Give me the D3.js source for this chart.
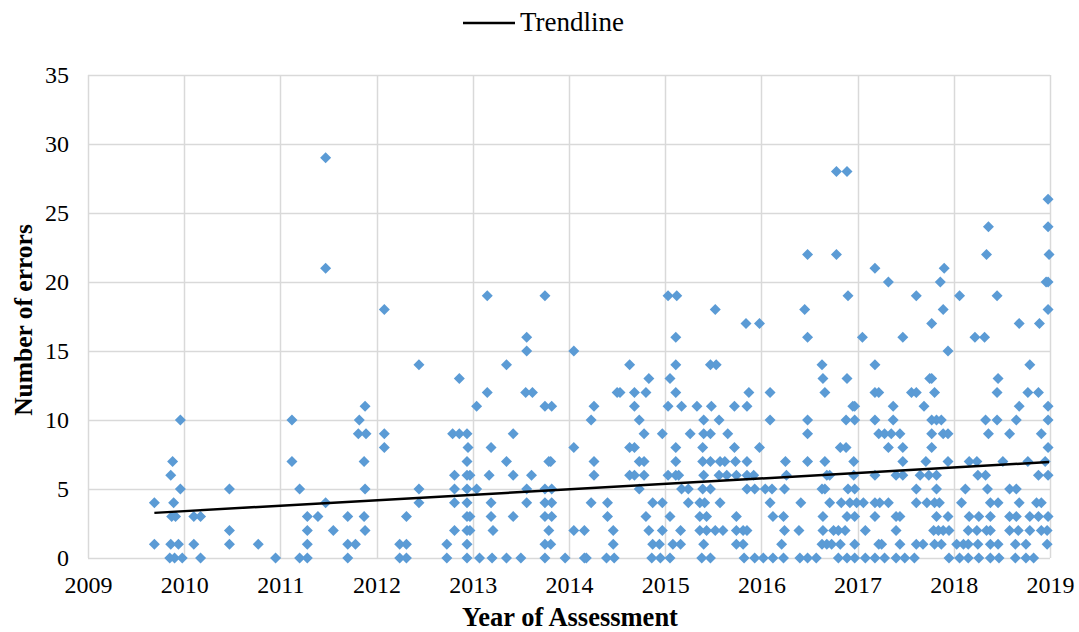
<!DOCTYPE html>
<html>
<head>
<meta charset="utf-8">
<script src="https://cdn.jsdelivr.net/npm/d3@7"></script>
<style>
  body { margin:0; background:#fff; }
  svg text { font-family:"Liberation Serif","Times New Roman",serif; fill:#000; }
</style>
</head>
<body>
<svg id="svg" width="1079" height="632"></svg>
<script>
// points: [year of assessment, number of errors]
var pts2009=[[2009.69,4],[2009.69,1],[2009.85,0],[2009.86,6],[2009.86,1],[2009.87,3],[2009.88,7],[2009.89,4],[2009.90,0],[2009.91,3],[2009.94,1],[2009.96,10],[2009.96,5],[2009.98,0]];
var pts2010=[[2010.10,3],[2010.10,1],[2010.17,3],[2010.17,0],[2010.47,5],[2010.47,2],[2010.47,1],[2010.77,1],[2010.95,0]];
var pts2011=[[2011.12,10],[2011.12,7],[2011.20,5],[2011.20,0],[2011.28,3],[2011.28,2],[2011.28,1],[2011.28,0],[2011.39,3],[2011.47,29],[2011.47,21],[2011.47,4],[2011.55,2],[2011.70,3],[2011.70,1],[2011.70,0],[2011.78,1],[2011.81,9],[2011.82,10],[2011.87,7],[2011.87,3],[2011.88,11],[2011.88,5],[2011.88,2],[2011.89,9]];
var pts2012=[[2012.08,18],[2012.08,9],[2012.08,8],[2012.24,1],[2012.24,0],[2012.31,3],[2012.31,1],[2012.31,0],[2012.44,14],[2012.44,5],[2012.44,4],[2012.73,1],[2012.73,0],[2012.79,9],[2012.81,6],[2012.81,5],[2012.81,4],[2012.81,2],[2012.86,13],[2012.86,9],[2012.94,9],[2012.95,8],[2012.94,7],[2012.94,6],[2012.97,6],[2012.94,5],[2012.94,4],[2012.94,3],[2012.97,3],[2012.94,2],[2012.97,2],[2012.94,1],[2012.94,0]];
var pts2013=[[2013.04,11],[2013.04,5],[2013.07,0],[2013.15,19],[2013.15,12],[2013.17,6],[2013.19,8],[2013.19,4],[2013.19,3],[2013.20,0],[2013.21,2],[2013.35,14],[2013.35,7],[2013.35,0],[2013.42,9],[2013.42,6],[2013.42,3],[2013.50,0],[2013.56,16],[2013.56,15],[2013.55,12],[2013.56,5],[2013.56,4],[2013.61,6],[2013.62,12],[2013.75,19],[2013.75,11],[2013.75,5],[2013.75,4],[2013.75,3],[2013.75,1],[2013.75,0],[2013.79,7],[2013.79,2],[2013.81,7],[2013.81,1],[2013.82,11],[2013.82,5],[2013.82,4],[2013.82,3],[2013.96,0]];
var pts2014=[[2014.05,15],[2014.05,8],[2014.05,2],[2014.16,2],[2014.16,0],[2014.18,0],[2014.23,10],[2014.23,4],[2014.26,11],[2014.26,7],[2014.26,6],[2014.39,0],[2014.40,4],[2014.40,3],[2014.46,2],[2014.46,1],[2014.47,0],[2014.50,12],[2014.53,12],[2014.63,14],[2014.63,8],[2014.63,6],[2014.68,12],[2014.68,11],[2014.68,8],[2014.68,6],[2014.73,10],[2014.73,7],[2014.73,5],[2014.78,9],[2014.78,7],[2014.78,6],[2014.80,12],[2014.80,3],[2014.83,13],[2014.83,2],[2014.86,0],[2014.87,4],[2014.87,1],[2014.94,1],[2014.95,0],[2014.97,9],[2014.97,4],[2014.97,2]];
var pts2015=[[2015.03,19],[2015.03,11],[2015.03,6],[2015.05,13],[2015.05,3],[2015.05,0],[2015.08,1],[2015.11,16],[2015.11,14],[2015.11,12],[2015.11,8],[2015.11,7],[2015.11,6],[2015.12,19],[2015.14,6],[2015.16,2],[2015.16,1],[2015.17,11],[2015.17,5],[2015.24,5],[2015.24,4],[2015.26,9],[2015.33,11],[2015.36,4],[2015.36,3],[2015.36,2],[2015.38,0],[2015.39,8],[2015.39,7],[2015.39,5],[2015.40,10],[2015.40,9],[2015.40,6],[2015.40,1],[2015.41,4],[2015.43,3],[2015.43,2],[2015.47,14],[2015.47,9],[2015.47,7],[2015.47,5],[2015.47,0],[2015.48,11],[2015.52,18],[2015.52,2],[2015.53,14],[2015.56,10],[2015.56,6],[2015.57,7],[2015.57,4],[2015.60,2],[2015.62,7],[2015.64,6],[2015.65,9],[2015.72,11],[2015.72,8],[2015.73,7],[2015.74,6],[2015.74,3],[2015.74,2],[2015.74,1],[2015.81,2],[2015.81,1],[2015.82,0],[2015.84,17],[2015.85,11],[2015.85,7],[2015.85,6],[2015.85,5],[2015.85,2],[2015.87,12],[2015.92,6],[2015.93,5],[2015.93,0],[2015.98,17],[2015.98,8]];
var pts2016=[[2016.02,0],[2016.04,5],[2016.09,12],[2016.09,10],[2016.09,4],[2016.11,5],[2016.12,3],[2016.12,0],[2016.21,1],[2016.23,3],[2016.23,0],[2016.24,5],[2016.24,2],[2016.25,7],[2016.26,6],[2016.39,2],[2016.40,0],[2016.41,4],[2016.45,18],[2016.48,22],[2016.48,16],[2016.48,10],[2016.48,9],[2016.48,7],[2016.48,0],[2016.57,0],[2016.63,14],[2016.63,5],[2016.63,1],[2016.64,13],[2016.64,3],[2016.64,2],[2016.66,12],[2016.66,7],[2016.66,5],[2016.68,6],[2016.68,1],[2016.71,6],[2016.71,4],[2016.73,1],[2016.75,2],[2016.78,28],[2016.78,22],[2016.80,2],[2016.80,0],[2016.82,8],[2016.82,1],[2016.83,4],[2016.87,2],[2016.88,10],[2016.88,8],[2016.89,28],[2016.89,13],[2016.89,3],[2016.89,0],[2016.90,19],[2016.90,5],[2016.92,4],[2016.95,11],[2016.96,7],[2016.96,6],[2016.97,11],[2016.97,10],[2016.97,5],[2016.97,3],[2016.97,1],[2016.97,0],[2016.99,4]];
var pts2017=[[2017.05,16],[2017.06,4],[2017.08,2],[2017.08,0],[2017.18,21],[2017.18,14],[2017.18,12],[2017.18,10],[2017.18,6],[2017.18,4],[2017.18,3],[2017.18,0],[2017.22,12],[2017.22,9],[2017.22,1],[2017.23,4],[2017.25,1],[2017.28,9],[2017.28,0],[2017.32,20],[2017.32,8],[2017.32,4],[2017.35,9],[2017.37,11],[2017.37,10],[2017.40,6],[2017.40,3],[2017.40,2],[2017.40,0],[2017.44,9],[2017.44,3],[2017.44,1],[2017.47,16],[2017.47,8],[2017.47,7],[2017.47,6],[2017.49,0],[2017.56,12],[2017.59,0],[2017.61,19],[2017.61,12],[2017.61,5],[2017.61,4],[2017.61,1],[2017.65,6],[2017.68,1],[2017.69,11],[2017.71,7],[2017.72,4],[2017.74,6],[2017.75,13],[2017.77,17],[2017.77,13],[2017.77,10],[2017.77,9],[2017.77,8],[2017.79,2],[2017.80,12],[2017.80,4],[2017.80,1],[2017.82,10],[2017.82,6],[2017.82,5],[2017.82,3],[2017.84,2],[2017.85,4],[2017.86,20],[2017.87,10],[2017.87,1],[2017.89,18],[2017.89,9],[2017.89,2],[2017.90,21],[2017.94,15],[2017.94,9],[2017.94,7],[2017.94,3],[2017.95,2],[2017.95,0]];
var pts2018=[[2018.03,1],[2018.06,19],[2018.06,0],[2018.08,4],[2018.10,1],[2018.12,5],[2018.15,2],[2018.15,1],[2018.15,0],[2018.16,7],[2018.16,3],[2018.22,16],[2018.24,7],[2018.24,2],[2018.25,6],[2018.25,1],[2018.26,3],[2018.26,0],[2018.32,16],[2018.33,10],[2018.33,6],[2018.34,22],[2018.34,2],[2018.35,5],[2018.36,24],[2018.36,9],[2018.38,4],[2018.38,3],[2018.38,2],[2018.38,1],[2018.38,0],[2018.45,19],[2018.45,12],[2018.45,10],[2018.46,13],[2018.46,4],[2018.46,1],[2018.47,0],[2018.51,7],[2018.58,9],[2018.58,5],[2018.58,3],[2018.58,2],[2018.64,1],[2018.64,0],[2018.65,10],[2018.65,5],[2018.65,3],[2018.67,2],[2018.68,17],[2018.68,11],[2018.68,4],[2018.75,1],[2018.75,0],[2018.77,12],[2018.77,7],[2018.79,14],[2018.79,3],[2018.79,2],[2018.83,0],[2018.86,4],[2018.88,12],[2018.88,6],[2018.88,3],[2018.89,17],[2018.91,9],[2018.91,4],[2018.91,2],[2018.95,7],[2018.96,20],[2018.97,2],[2018.97,1],[2018.98,26],[2018.98,24],[2018.98,20],[2018.98,18],[2018.98,11],[2018.98,10],[2018.98,8],[2018.98,6],[2018.98,3],[2018.99,22]];

// linear trendline as shown on the chart (start and end values)
var trendYears=[2009.69,2018.99];
var trendErrors=[3.27,6.95];

var xTicks=[2009,2010,2011,2012,2013,2014,2015,2016,2017,2018,2019];
var yTicks=[0,5,10,15,20,25,30,35];
var legendLabel="Trendline";
var xTitle="Year of Assessment";
var yTitle="Number of errors";

var data=[].concat(pts2009,pts2010,pts2011,pts2012,pts2013,pts2014,pts2015,pts2016,pts2017,pts2018);

var mLeft=88,mTop=75,width=962,height=483;
var svg=d3.select("#svg");
var g=svg.append("g").attr("transform","translate("+mLeft+","+mTop+")");

var x=d3.scaleLinear().domain([2009,2019]).range([0,width]);
var y=d3.scaleLinear().domain([0,35]).range([height,0]);

//gridlines
g.append("g").selectAll("line").data(yTicks).enter().append("line")
    .attr("x1",0).attr("x2",width)
    .attr("y1",d=>Math.round(y(d))+0.5).attr("y2",d=>Math.round(y(d))+0.5)
    .attr("stroke","#d9d9d9").attr("stroke-width",1.5);
g.append("g").selectAll("line").data(xTicks).enter().append("line")
    .attr("y1",0).attr("y2",height)
    .attr("x1",d=>Math.round(x(d))+0.5).attr("x2",d=>Math.round(x(d))+0.5)
    .attr("stroke","#d9d9d9").attr("stroke-width",1.5);

//axes, only the labels are kept
var xAxis=g.append("g").attr("transform","translate(0,"+height+")")
    .call(d3.axisBottom(x).tickValues(xTicks).tickFormat(d3.format("d")).tickSize(0).tickPadding(18));
var yAxis=g.append("g")
    .call(d3.axisLeft(y).tickValues(yTicks).tickSize(0).tickPadding(19));
[xAxis,yAxis].forEach(a=>{
    a.select(".domain").remove();
    a.selectAll("text").style("font-family","'Liberation Serif','Times New Roman',serif").style("font-size","24px").attr("fill","#000");
});

//points
var diamond="M0,-5.5L5.5,0L0,5.5L-5.5,0Z";
g.append("g").selectAll("path").data(data).enter().append("path")
    .attr("d",diamond)
    .attr("transform",d=>"translate("+x(d[0])+","+y(d[1])+")")
    .attr("fill","#5b9bd5");

//trendline
g.append("path")
    .datum(d3.zip(trendYears,trendErrors))
    .attr("d",d3.line().x(d=>x(d[0])).y(d=>y(d[1])))
    .attr("fill","none").attr("stroke","#000").attr("stroke-width",2.5);

//legend
svg.append("line").attr("x1",463).attr("x2",515).attr("y1",23).attr("y2",23)
    .attr("stroke","#000").attr("stroke-width",2.5);
svg.append("text").attr("x",520).attr("y",31).style("font-size","27px").text(legendLabel);

//axis titles
svg.append("text").attr("x",570).attr("y",626).attr("text-anchor","middle")
    .style("font-size","26.5px").style("font-weight","bold").text(xTitle);
svg.append("text").attr("transform","translate(32,320) rotate(-90)").attr("text-anchor","middle")
    .style("font-size","25.5px").style("font-weight","bold").text(yTitle);
</script>
</body>
</html>
